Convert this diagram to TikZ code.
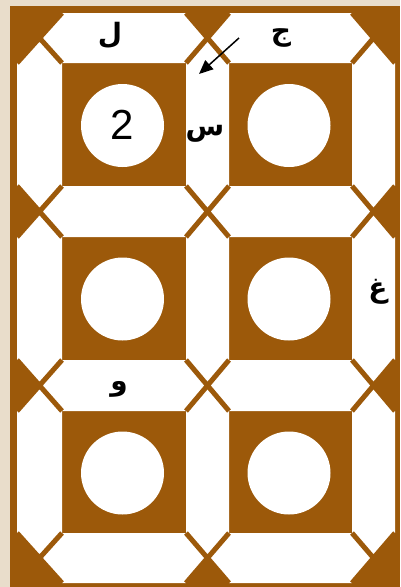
\documentclass[tikz,border=0pt]{standalone}
\usepackage{fontspec}
\setmainfont{Liberation Sans}
\newfontfamily\arabicfont[Script=Arabic]{DejaVu Sans Bold}
\TeXXeTstate=1
\usetikzlibrary{arrows.meta}
\definecolor{tilebrown}{RGB}{156,89,10}
\definecolor{wallbeige}{RGB}{233,221,203}

\begin{document}
\begin{tikzpicture}[x=1pt, y=-1pt,
    tile/.style={fill=white},
    grout/.style={draw=tilebrown, line width=5pt},
    letter/.style={font=\arabicfont\fontsize{28}{28}\selectfont, inner sep=0pt}]
    \fill[wallbeige] (0,0) rectangle (400,587);
    \useasboundingbox (0,0) rectangle (400,587);
    \fill[tilebrown] (10,6) rectangle (400,587);

    % upright tiles between the squares
    \foreach \xl/\xr in {17/62, 186/229, 352/395} {
        \foreach \ya/\yt/\yb/\yz in {38/63/186/211.5, 211.5/237/360/385.5, 385.5/411/533/558} {
            \fill[tile] ({(\xl+\xr)/2},\ya) -- (\xr,\yt) -- (\xr,\yb)
                -- ({(\xl+\xr)/2},\yz) -- (\xl,\yb) -- (\xl,\yt) -- cycle;
        }
    }
    % lying tiles above and below the squares
    \foreach \xa/\xl/\xr/\xz in {39.5/62/186/207.5, 207.5/229/352/373.5} {
        \foreach \yt/\yb in {13/63, 186/237, 360/411, 533/583} {
            \fill[tile] (\xa,{(\yt+\yb)/2}) -- (\xl,\yt) -- (\xr,\yt)
                -- (\xz,{(\yt+\yb)/2}) -- (\xr,\yb) -- (\xl,\yb) -- cycle;
        }
    }
    % grout crosses
    \foreach \xl/\xr in {17/62, 186/229, 352/395} {
        \foreach \yt/\yb in {13/63, 186/237, 360/411, 533/583} {
            \draw[grout] (\xl,\yt) -- (\xr,\yb) (\xr,\yt) -- (\xl,\yb);
        }
    }
    % holes in the squares
    \foreach \cx in {122.5, 289} {
        \foreach \cy in {125.5, 299, 473} {
            \fill[white] (\cx,\cy) circle[radius=41.5];
        }
    }

    \node[font=\fontsize{42}{42}\selectfont, inner sep=0pt] (two) at (122.5,125) {2};
    \node[letter] (lam) at (110,35) {\beginR ل\endR};
    \node[letter] (jim) at (281,38) {\beginR ج\endR};
    \node[letter] (sin) at (205,134) {\beginR س\endR};
    \node[letter] (ghain) at (378,292) {\beginR غ\endR};
    \node[letter] (waw) at (119,389) {\beginR و\endR};

    \coordinate (arrow-tail) at (239,38);
    \coordinate (sin-top) at (199,74);
    \draw[line width=1.5pt, -{Triangle[length=14pt,width=12pt]}] (arrow-tail) -- (sin-top);
\end{tikzpicture}
\end{document}
